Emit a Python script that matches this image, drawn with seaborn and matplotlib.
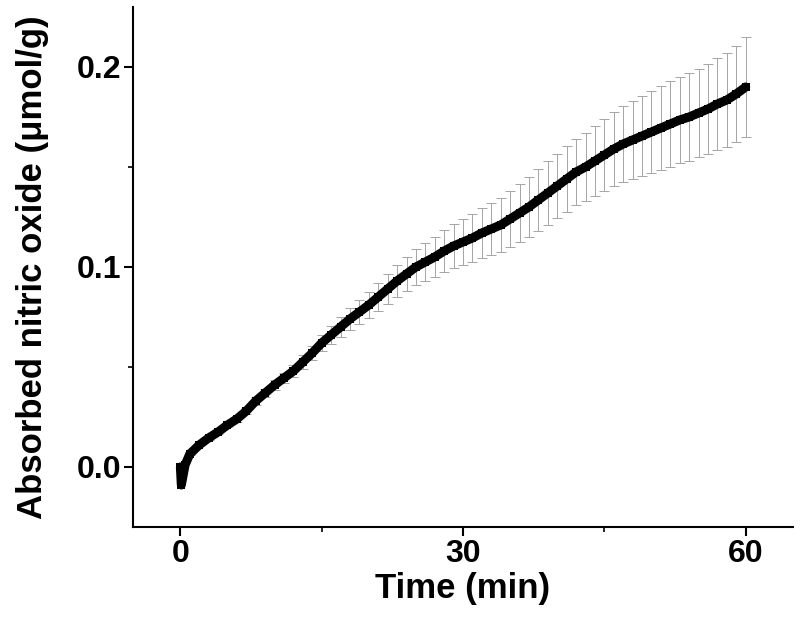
import matplotlib
matplotlib.use("Agg")
import matplotlib.pyplot as plt
import seaborn as sns
import pandas as pd
from matplotlib.ticker import MultipleLocator

# time points (min) and absorbed NO (umol/g)
time_min = [0, 0.1, 0.5] + list(range(1, 61))
absorbed = [
    0.000, -0.009, 0.001,
    0.0065, 0.011, 0.0145, 0.0175, 0.021, 0.024, 0.028, 0.033, 0.037, 0.041,
    0.0445, 0.048, 0.0525, 0.057, 0.062, 0.066, 0.070, 0.074, 0.0775, 0.081,
    0.085, 0.089, 0.093, 0.0965, 0.100, 0.1025, 0.105, 0.108, 0.1105, 0.1125,
    0.1145, 0.117, 0.119, 0.121, 0.124, 0.127, 0.130, 0.1335, 0.137, 0.1405,
    0.144, 0.1475, 0.150, 0.153, 0.156, 0.159, 0.1615, 0.1635, 0.1655, 0.1675,
    0.1695, 0.1715, 0.1735, 0.175, 0.177, 0.179, 0.1815, 0.1835, 0.1865, 0.190,
]
# error bars shown once per minute (t = 1..60)
err_time = list(range(1, 61))
err_size = [
    0.0005, 0.0007, 0.0009, 0.001, 0.0012, 0.0014, 0.0016, 0.0018, 0.002, 0.0023,
    0.0026, 0.003, 0.0033, 0.0037, 0.004, 0.0045, 0.005, 0.0055, 0.006, 0.0065,
    0.007, 0.0075, 0.008, 0.0085, 0.009, 0.0095, 0.0098, 0.0105, 0.011, 0.0115,
    0.012, 0.0125, 0.013, 0.0135, 0.014, 0.0145, 0.015, 0.0155, 0.0158, 0.016,
    0.0163, 0.0167, 0.017, 0.0175, 0.018, 0.0185, 0.019, 0.0195, 0.020, 0.0205,
    0.021, 0.0213, 0.0216, 0.022, 0.022, 0.0225, 0.023, 0.0235, 0.024, 0.025,
]

df = pd.DataFrame({"time": time_min, "no": absorbed})
err_mean = [absorbed[time_min.index(t)] for t in err_time]

sns.set_style("ticks")
plt.rcParams["font.family"] = ["Liberation Sans", "DejaVu Sans"]
plt.rcParams["font.weight"] = "bold"
for key in ["text.color", "axes.labelcolor", "xtick.color", "ytick.color",
            "axes.edgecolor"]:
    plt.rcParams[key] = "black"

fig = plt.figure(figsize=(8, 6.33), dpi=100)
ax = fig.add_axes([0.1666, 0.1675, 0.8244, 0.8215])

ax.errorbar(err_time, err_mean, yerr=err_size, fmt="none", ecolor="#a5a5a5",
            elinewidth=0.7, capsize=3.5, capthick=0.7, zorder=1)
sns.lineplot(data=df, x="time", y="no", color="black", linewidth=6.5,
             marker="s", markersize=6, markeredgewidth=0, sort=False,
             ax=ax, zorder=3)

ax.set_xlim(-5, 65)
ax.set_ylim(-0.03, 0.23)
ax.xaxis.set_minor_locator(MultipleLocator(15))
ax.yaxis.set_minor_locator(MultipleLocator(0.05))
ax.set_xticks([0, 30, 60])
ax.set_xticklabels(["0", "30", "60"])
ax.set_yticks([0.0, 0.1, 0.2])
ax.set_yticklabels(["0.0", "0.1", "0.2"])

ax.tick_params(which="major", length=6.5, width=1.5, labelsize=23, pad=2)
ax.tick_params(which="minor", length=3.5, width=1.2)
for lab in ax.get_xticklabels() + ax.get_yticklabels():
    lab.set_fontweight("bold")

for side in ["top", "right"]:
    ax.spines[side].set_visible(False)
for side in ["left", "bottom"]:
    ax.spines[side].set_linewidth(1.5)

ax.set_xlabel("Time (min)", fontsize=25, fontweight="bold", labelpad=2)
ax.set_ylabel("Absorbed nitric oxide (μmol/g)", fontsize=25,
              fontweight="bold", labelpad=20)

fig.savefig("out.png", dpi=100)
